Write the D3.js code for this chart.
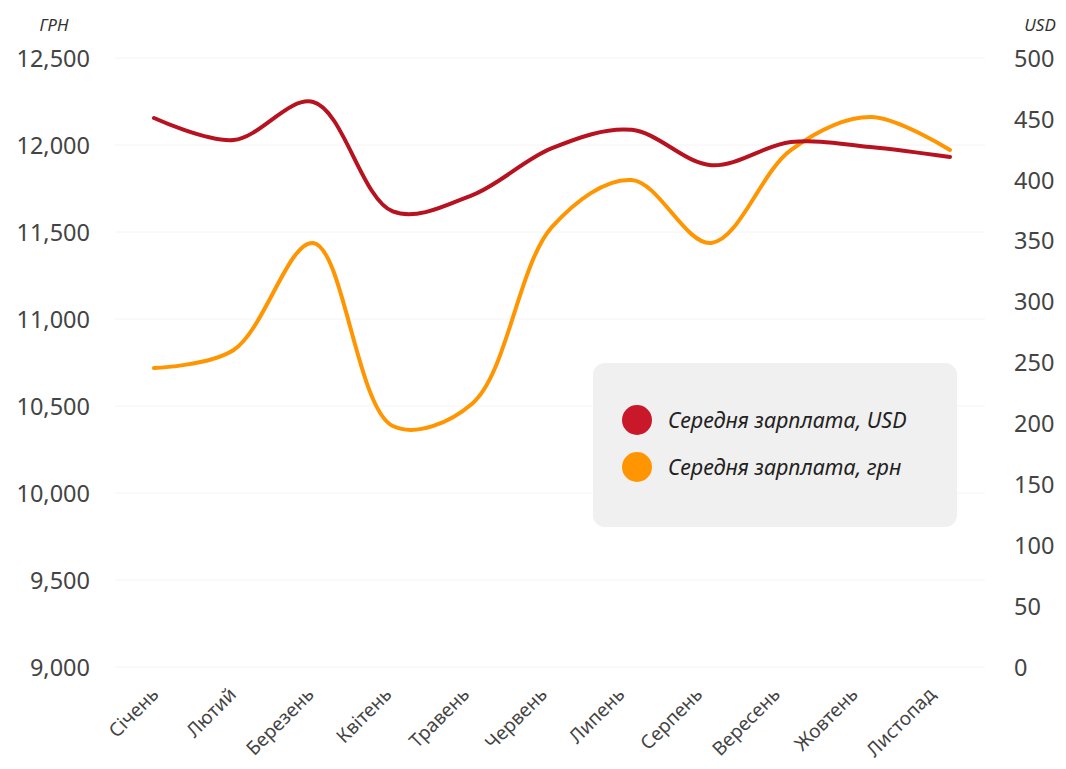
<!DOCTYPE html>
<html>
<head>
<meta charset="utf-8">
<script src="https://cdn.jsdelivr.net/npm/d3@7"></script>
<style>
  body { margin: 0; background: #fff; }
  text { font-family: "Noto Sans", "Open Sans", sans-serif; }
</style>
</head>
<body>
<div id="chart-area"></div>
<script>
// data
var months = ["Січень", "Лютий", "Березень", "Квітень", "Травень", "Червень",
              "Липень", "Серпень", "Вересень", "Жовтень", "Листопад"];
var salaryUah = [10718, 10822, 11437, 10385, 10515, 11529, 11799, 11437, 11971, 12161, 11971];
var salaryUsd = [450.7, 432.7, 463.9, 374, 387.5, 426, 441, 412, 431, 427, 418.7];
var uahTicks = [9000, 9500, 10000, 10500, 11000, 11500, 12000, 12500];
var usdTicks = [0, 50, 100, 150, 200, 250, 300, 350, 400, 450, 500];
var legendNames = ["Середня зарплата, USD", "Середня зарплата, грн"];

var red = "#b7121f", orange = "#ff9500";

var svg = d3.select("#chart-area").append("svg")
            .attr("width", 1066)
            .attr("height", 769);

var x = d3.scalePoint()
          .domain(months)
          .range([154, 950]);

// month labels sit a little tighter than the points
var xLabel = d3.scalePoint()
               .domain(months)
               .range([155, 932]);

var yL = d3.scaleLinear()
           .domain([9000, 12500])
           .range([667, 58]);

var yR = d3.scaleLinear()
           .domain([0, 500])
           .range([667, 58]);

// grid
svg.append("g").selectAll("line")
   .data(uahTicks)
   .enter().append("line")
     .attr("x1", 115).attr("x2", 985)
     .attr("y1", (d) => yL(d)).attr("y2", (d) => yL(d))
     .attr("stroke", "#f4f4f4")
     .attr("stroke-width", 1);

// left axis
var left = svg.append("g")
              .attr("transform", "translate(90,0)")
              .call(d3.axisLeft(yL).tickValues(uahTicks).tickFormat(d3.format(",")).tickSize(0).tickPadding(0));
left.select(".domain").remove();
left.selectAll("text")
    .attr("font-size", 23.5).attr("fill", "#444").attr("dy", "0.35em")
    .style("font-family", "'Noto Sans', sans-serif");

// right axis
var right = svg.append("g")
               .attr("transform", "translate(1014,0)")
               .call(d3.axisRight(yR).tickValues(usdTicks).tickSize(0).tickPadding(0));
right.select(".domain").remove();
right.selectAll("text")
     .attr("font-size", 23.5).attr("fill", "#444").attr("dy", "0.35em")
     .style("font-family", "'Noto Sans', sans-serif");

// unit labels
svg.append("text").attr("x", 54).attr("y", 31).attr("text-anchor", "middle")
   .attr("font-size", 17).attr("font-style", "italic").attr("fill", "#333").text("ГРН");
svg.append("text").attr("x", 1040).attr("y", 31).attr("text-anchor", "middle")
   .attr("font-size", 17).attr("font-style", "italic").attr("fill", "#333").text("USD");

// x axis labels
svg.append("g").selectAll("text")
   .data(months)
   .enter().append("text")
     .attr("transform", (d) => "translate(" + xLabel(d) + ",691) rotate(-45)")
     .attr("text-anchor", "end")
     .attr("dy", "0.35em")
     .attr("font-size", 19).attr("fill", "#444")
     .text((d) => d);

// lines
var lineUah = d3.line()
                .x((d, i) => x(months[i]))
                .y((d) => yL(d))
                .curve(d3.curveCatmullRom.alpha(0.5));
var lineUsd = d3.line()
                .x((d, i) => x(months[i]))
                .y((d) => yR(d))
                .curve(d3.curveCatmullRom.alpha(0.5));

svg.append("path").datum(salaryUah)
   .attr("d", lineUah).attr("fill", "none")
   .attr("stroke", orange).attr("stroke-width", 4).attr("stroke-linecap", "round");
svg.append("path").datum(salaryUsd)
   .attr("d", lineUsd).attr("fill", "none")
   .attr("stroke", red).attr("stroke-width", 4).attr("stroke-linecap", "round");

// legend
var legend = svg.append("g");
legend.append("rect")
      .attr("x", 593).attr("y", 363).attr("width", 364).attr("height", 164)
      .attr("rx", 12).attr("fill", "#f0f0f0");
var items = legend.selectAll("g.item")
                  .data(legendNames)
                  .enter().append("g")
                  .attr("transform", (d, i) => "translate(637," + (420 + i * 47) + ")");
items.append("circle").attr("r", 15)
     .attr("fill", (d, i) => i === 0 ? "#c8182a" : orange);
items.append("text")
     .attr("x", 31).attr("dy", "0.35em")
     .attr("font-size", 21.5).attr("font-style", "italic").attr("fill", "#222")
     .text((d) => d);
</script>
</body>
</html>
